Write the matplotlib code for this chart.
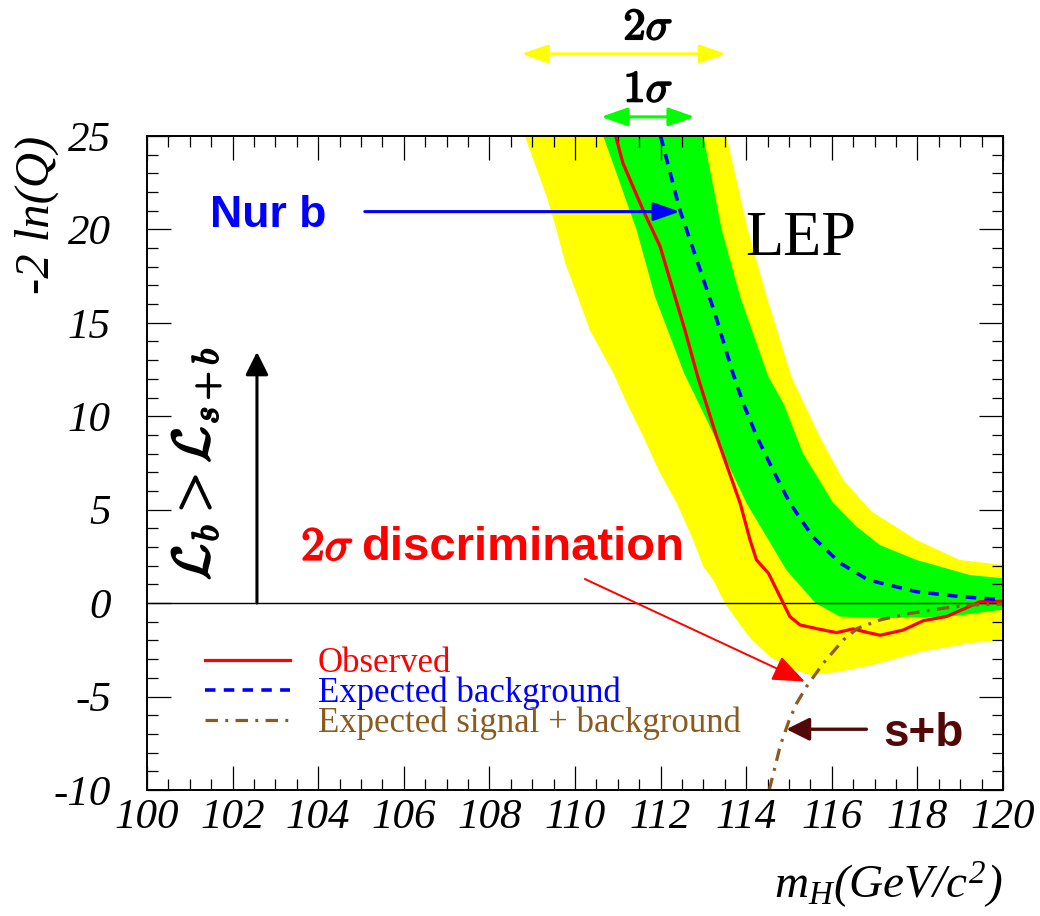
"""LEP -2 ln(Q) en fonction de m_H"""
import numpy as np
import matplotlib
matplotlib.use("Agg")
import matplotlib.pyplot as plt
import matplotlib.patheffects as pe
from matplotlib.ticker import MultipleLocator

plt.rcParams['font.family'] = ['Liberation Serif', 'DejaVu Serif']
plt.rcParams['font.style'] = 'italic'
plt.rcParams['axes.unicode_minus'] = False
plt.rcParams['mathtext.fontset'] = 'custom'
plt.rcParams['mathtext.rm'] = 'Liberation Serif:italic'
plt.rcParams['mathtext.it'] = 'Liberation Serif:italic'
plt.rcParams['mathtext.bf'] = 'Liberation Serif:bold'
plt.rcParams['mathtext.bfit'] = 'Liberation Serif:bold:italic'

# courbes
obs_x = [110.95, 111.12, 111.59, 111.99, 112.22, 112.57, 112.87, 113.31, 113.86,
         114.09, 114.24, 114.52, 114.79, 115.02, 115.26, 115.72, 116.11, 116.5,
         116.74, 117.13, 117.67, 118.14, 118.68, 119.07, 119.46, 120.0]
obs_y = [25.0, 23.55, 21.04, 19.08, 17.3, 14.6, 12.1, 8.9, 5.34,
         3.38, 2.31, 1.6, 0.35, -0.72, -1.17, -1.4, -1.58, -1.38,
         -1.52, -1.72, -1.44, -0.94, -0.72, -0.33, 0.07, 0.1]

bkg_x = [112.0, 112.45, 112.87, 113.27, 113.69, 113.93, 114.25, 114.63, 115.02,
         115.56, 116.19, 116.85, 117.98, 118.99, 120.0]
bkg_y = [25.0, 21.04, 18.2, 15.5, 12.3, 10.7, 8.9, 7.1, 5.36,
         3.54, 2.15, 1.24, 0.61, 0.35, 0.17]

sb_x = [114.54, 114.8, 115.0, 115.18, 115.41, 115.8, 116.27, 116.6, 117.13,
        117.83, 118.6, 119.23, 120.0]
sb_y = [-10.0, -7.6, -6.3, -5.36, -4.47, -3.22, -1.97, -1.35, -0.9,
        -0.55, -0.28, -0.1, -0.05]

# bandes 1 sigma / 2 sigma
s2_up_x = [113.54, 114.04, 114.48, 115.06, 115.72, 116.27, 116.93, 117.98, 118.99, 120.0]
s2_up_y = [25.0, 19.97, 16.4, 12.1, 8.9, 6.59, 4.9, 3.38, 2.31, 2.04]
s2_lo_x = [108.83, 109.34, 109.57, 109.77, 109.92, 110.35, 110.92, 111.21, 111.6,
           111.95, 112.38, 112.76, 113.0, 113.23, 113.5, 113.89, 114.13, 114.56,
           115.02, 115.5, 116.19, 116.97, 118.1, 119.2, 120.0]
s2_lo_y = [25.0, 21.75, 19.97, 18.2, 17.3, 14.6, 12.2, 10.7, 8.9,
           7.13, 5.34, 3.38, 1.95, 1.24, 0.0, -1.26, -1.97, -2.87,
           -3.49, -3.85, -3.67, -3.3, -2.6, -2.15, -1.95]
s1_up_x = [113.0, 113.43, 113.86, 114.52, 114.87, 115.33, 116.04, 116.58, 117.13,
           117.98, 119.23, 120.0]
s1_up_y = [25.0, 19.97, 16.4, 12.1, 10.7, 8.0, 5.34, 4.09, 3.1,
           2.31, 1.5, 1.33]
s1_lo_x = [110.66, 111.44, 111.87, 112.55, 113.27, 114.01, 114.94, 115.62, 116.19,
           117.2, 118.76, 120.0]
s1_lo_y = [25.0, 19.97, 16.4, 12.3, 8.9, 5.34, 1.77, 0.0, -0.72,
           -0.8, -0.72, -0.35]

brown = '#8b5a1e'
dark = '#520808'

fig = plt.figure(figsize=(10.4, 9.16), dpi=100)
ax = fig.add_axes([0.1413, 0.1376, 0.8231, 0.7140])

ax.fill(np.concatenate([s2_up_x, s2_lo_x[::-1]]), np.concatenate([s2_up_y, s2_lo_y[::-1]]),
        color='#ffff00', lw=0)
ax.fill(np.concatenate([s1_up_x, s1_lo_x[::-1]]), np.concatenate([s1_up_y, s1_lo_y[::-1]]),
        color='#00ff00', lw=0)
ax.axhline(0, color='black', lw=1.0)

l_obs, = ax.plot(obs_x, obs_y, color='red', lw=2.3, label='Observed')
l_bkg, = ax.plot(bkg_x, bkg_y, color='blue', lw=2.6, dashes=(2.9, 2.3),
                 label='Expected background')
l_sb, = ax.plot(sb_x, sb_y, color=brown, lw=2.3, dashes=(3.9, 2.3, 0.9, 2.3),
                label='Expected signal + background')

ax.set_xlim(100, 120)
ax.set_ylim(-10, 25)
ax.xaxis.set_major_locator(MultipleLocator(2))
ax.xaxis.set_minor_locator(MultipleLocator(0.5))
ax.yaxis.set_major_locator(MultipleLocator(5))
ax.yaxis.set_minor_locator(MultipleLocator(1))
ax.tick_params(which='both', direction='in', top=True, right=True, width=0.9)
ax.tick_params(which='major', length=17)
ax.tick_params(which='minor', length=8)
ax.tick_params(axis='x', labelsize=31, pad=6)
ax.tick_params(axis='y', labelsize=31, pad=26)
for sp in ax.spines.values():
    sp.set_linewidth(1.4)

ax.text(-0.1285, 1.0, '-2 ln(Q)', transform=ax.transAxes, rotation=90,
        ha='center', va='top', fontsize=35)
ax.text(1.0, -0.165, r'$m_{H}(GeV/c^{2})$', transform=ax.transAxes,
        ha='right', va='baseline', fontsize=34)

# fleches sigma au-dessus du cadre
ax.annotate('', xy=(108.75, 29.39), xytext=(113.53, 29.39), annotation_clip=False,
            arrowprops=dict(arrowstyle='<|-|>,head_length=0.8,head_width=0.28',
                            mutation_scale=20, color='#ffff00', lw=2.2,
                            shrinkA=0, shrinkB=0))
ax.annotate('', xy=(110.61, 26.02), xytext=(112.8, 26.02), annotation_clip=False,
            arrowprops=dict(arrowstyle='<|-|>,head_length=0.8,head_width=0.28',
                            mutation_scale=20, color='#00ff00', lw=2.2,
                            shrinkA=0, shrinkB=0))
heavy = [pe.withStroke(linewidth=1.3, foreground='black')]
ax.text(111.71, 30.17, r'$\mathbf{2}\sigma$', ha='center', va='baseline',
        fontsize=32, math_fontfamily='cm', clip_on=False, path_effects=heavy)
ax.text(111.71, 26.84, r'$\mathbf{1}\sigma$', ha='center', va='baseline',
        fontsize=32, math_fontfamily='cm', clip_on=False, path_effects=heavy)

# Nur b
ax.text(101.47, 20.15, 'Nur b', color='blue', fontsize=32, fontweight='bold',
        fontstyle='normal', family='Liberation Sans', va='baseline')
ax.annotate('', xy=(112.45, 20.95), xytext=(105.09, 20.95),
            arrowprops=dict(arrowstyle='-|>,head_length=0.8,head_width=0.28',
                            mutation_scale=20, color='blue', lw=2.2,
                            shrinkA=0, shrinkB=0))

ax.text(113.97, 18.63, 'LEP', fontsize=45, fontstyle='normal', va='baseline')

# L_b > L_s+b
ax.annotate('', xy=(102.57, 13.44), xytext=(102.57, 0.0),
            arrowprops=dict(arrowstyle='-|>,head_length=0.7,head_width=0.35',
                            mutation_scale=20, color='black', lw=2.2,
                            shrinkA=0, shrinkB=0))
ax.text(101.15, 7.45, r'$\mathcal{L}_b > \mathcal{L}_{s+b}$', rotation=90,
        ha='center', va='center', fontsize=38, math_fontfamily='cm',
        path_effects=[pe.withStroke(linewidth=1.3, foreground='black')])

# 2 sigma discrimination
ax.text(103.6, 2.31, r'$\mathbf{2}\sigma$', color='red', fontsize=34,
        math_fontfamily='cm', va='baseline',
        path_effects=[pe.withStroke(linewidth=1.3, foreground='red')])
ax.text(105.0, 2.31, 'discrimination', color='red', fontsize=34, fontweight='bold',
        fontstyle='normal', family='Liberation Sans', va='baseline')
ax.annotate('', xy=(115.37, -4.2), xytext=(110.23, 1.29),
            arrowprops=dict(arrowstyle='-|>,head_length=1.0,head_width=0.4',
                            mutation_scale=20, color='red', lw=1.4,
                            shrinkA=0, shrinkB=0))

# s+b
ax.annotate('', xy=(114.94, -6.75), xytext=(116.81, -6.75),
            arrowprops=dict(arrowstyle='-|>,head_length=0.7,head_width=0.35',
                            mutation_scale=20, color=dark, lw=2.4,
                            shrinkA=0, shrinkB=0))
ax.text(117.2, -7.64, 's+b', color=dark, fontsize=33, fontweight='bold',
        fontstyle='normal', family='Liberation Sans', va='baseline')

leg = ax.legend(handles=[l_obs, l_bkg, l_sb], loc='upper left',
                bbox_to_anchor=(0.068, 0.219), frameon=False,
                prop={'size': 25, 'style': 'normal'},
                handlelength=2.45, handletextpad=0.8, labelspacing=-0.09,
                borderpad=0, borderaxespad=0, labelcolor='linecolor')

fig.savefig('out.png', dpi=100)
